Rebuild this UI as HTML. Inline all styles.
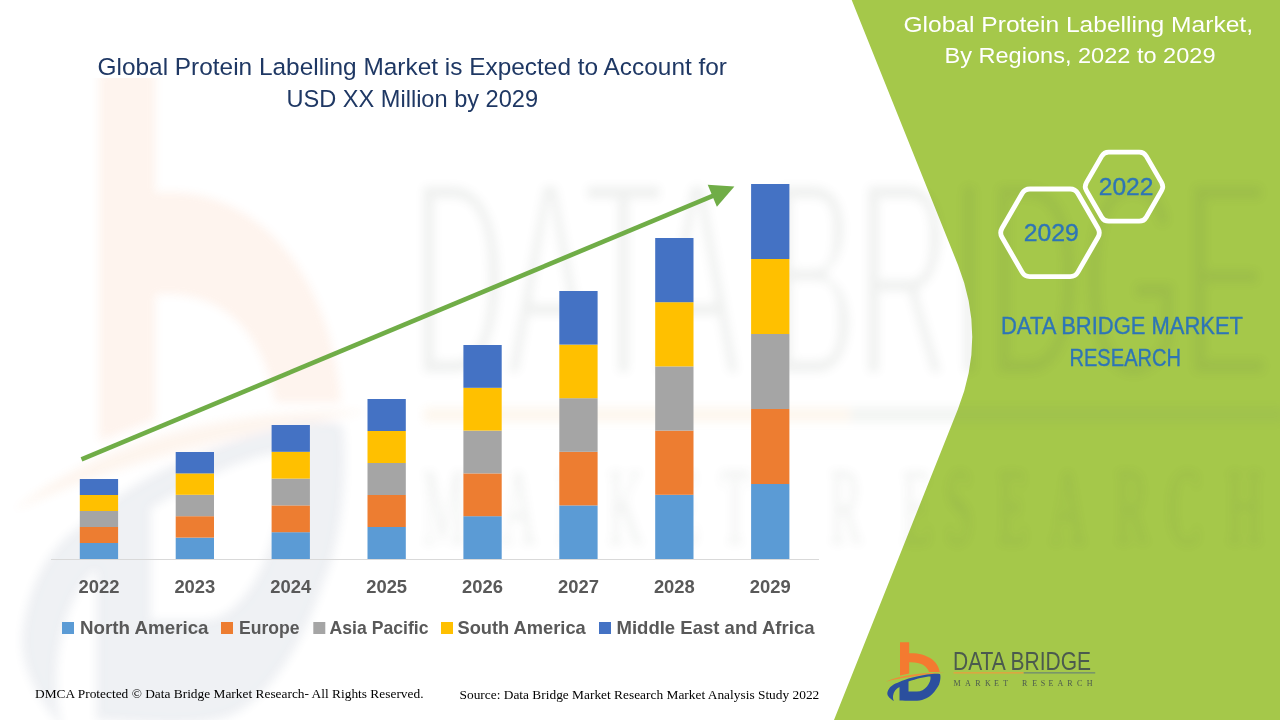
<!DOCTYPE html>
<html><head><meta charset="utf-8">
<style>
html,body{margin:0;padding:0;background:#fff;width:1280px;height:720px;overflow:hidden;}
svg{display:block;}
text{font-family:"Liberation Sans",sans-serif;}
.serif{font-family:"Liberation Serif",serif;}
</style></head>
<body>
<svg width="1280" height="720" viewBox="0 0 1280 720">
<defs>
  <filter id="blur6" x="-20%" y="-20%" width="140%" height="140%"><feGaussianBlur stdDeviation="5"/></filter>
  <clipPath id="wmclip"><rect x="0" y="78" width="1280" height="642"/></clipPath>
  <filter id="erodeY" x="-5%" y="-5%" width="110%" height="110%"><feMorphology operator="erode" radius="1 5"/></filter>
</defs>
<rect width="1280" height="720" fill="#fff"/>

<!-- watermark -->

<!-- green panel -->
<path d="M851.7,0 L958,265 Q986.5,337 958,409 L834,720 L1280,720 L1280,0 Z" fill="#A5C84A"/>

<g clip-path="url(#wmclip)"><g id="wm" opacity="0.085" filter="url(#blur6)"><g transform="translate(-5363.7,-7090.2) scale(6.07,11.15)">
<path d="M900,642.3 L909.2,642.3 L909.2,653.2 C925,652.4 938,659.8 939.8,672 L929,672 C927,665.5 920,661.8 909.2,662.3 L909.2,673.5 L900,675.5 Z" fill="#F47A30"/>
<path d="M885.8,681.7 C900,675.5 920,672.5 944.5,672.8 C920,675 900,678 885.8,681.7 Z" fill="#F08A3A"/>
<path fill-rule="evenodd" d="M894,701.25 C889,698 886.5,695 887.5,692 C889,687 893,684.5 897,683 C903,680 912,677 927,674.5 C933,673.5 938,673.5 940,674 C941,676 940.5,684 937,688 C934,693 929,698 922,700 C915,701.5 905,700.5 899.5,700.5 L899.5,687 C896,688.5 893.5,692 893,696 C892.8,698 893.3,700 894,701.25 Z M908.5,681.5 C916,679 925,676.5 930.5,676.5 C931,680 929.5,683 927,686.5 C924.5,689.5 921,691.5 917,691.5 L908.5,691.5 Z" fill="#3A5278"/>
</g>
<text filter="url(#erodeY)" x="412" y="377" font-size="284" fill="#4B5A4E" textLength="858" lengthAdjust="spacingAndGlyphs">DATA BRIDGE</text>
<rect x="424" y="407.5" width="426" height="14.5" fill="#E8A040"/>
<rect x="850" y="407.5" width="434" height="14.5" fill="#6F8A70"/>
<g transform="translate(-5363.7,-7090.2) scale(6.07,11.15)"><text class="serif" transform="translate(0,684.7) scale(1,1.24) translate(0,-684.7)" y="684.7" font-size="8" fill="#4B5A4E" x="953.2 966.2 975.3 983.8 994 1002.3 1020.3 1032.2 1039.4 1048 1056.7 1067.4 1076.1 1085.8">MARKETRESEARCH</text></g></g></g>
<!-- title -->
<text x="97.5" y="74.75" font-size="23.7" fill="#1F3864" textLength="629.5" lengthAdjust="spacingAndGlyphs">Global Protein Labelling Market is Expected to Account for</text>
<text x="286.5" y="106.9" font-size="23.7" fill="#1F3864" textLength="251.5" lengthAdjust="spacingAndGlyphs">USD XX Million by 2029</text>

<!-- bars -->
<g id="bars">
<rect x="79.80" y="543.00" width="38.3" height="16.00" fill="#5B9BD5"/>
<rect x="79.80" y="527.00" width="38.3" height="16.00" fill="#ED7D31"/>
<rect x="79.80" y="511.00" width="38.3" height="16.00" fill="#A5A5A5"/>
<rect x="79.80" y="495.00" width="38.3" height="16.00" fill="#FFC000"/>
<rect x="79.80" y="479.00" width="38.3" height="16.00" fill="#4472C4"/>
<rect x="175.70" y="537.60" width="38.3" height="21.40" fill="#5B9BD5"/>
<rect x="175.70" y="516.20" width="38.3" height="21.40" fill="#ED7D31"/>
<rect x="175.70" y="494.80" width="38.3" height="21.40" fill="#A5A5A5"/>
<rect x="175.70" y="473.40" width="38.3" height="21.40" fill="#FFC000"/>
<rect x="175.70" y="452.00" width="38.3" height="21.40" fill="#4472C4"/>
<rect x="271.60" y="532.20" width="38.3" height="26.80" fill="#5B9BD5"/>
<rect x="271.60" y="505.40" width="38.3" height="26.80" fill="#ED7D31"/>
<rect x="271.60" y="478.60" width="38.3" height="26.80" fill="#A5A5A5"/>
<rect x="271.60" y="451.80" width="38.3" height="26.80" fill="#FFC000"/>
<rect x="271.60" y="425.00" width="38.3" height="26.80" fill="#4472C4"/>
<rect x="367.50" y="527.00" width="38.3" height="32.00" fill="#5B9BD5"/>
<rect x="367.50" y="495.00" width="38.3" height="32.00" fill="#ED7D31"/>
<rect x="367.50" y="463.00" width="38.3" height="32.00" fill="#A5A5A5"/>
<rect x="367.50" y="431.00" width="38.3" height="32.00" fill="#FFC000"/>
<rect x="367.50" y="399.00" width="38.3" height="32.00" fill="#4472C4"/>
<rect x="463.40" y="516.20" width="38.3" height="42.80" fill="#5B9BD5"/>
<rect x="463.40" y="473.40" width="38.3" height="42.80" fill="#ED7D31"/>
<rect x="463.40" y="430.60" width="38.3" height="42.80" fill="#A5A5A5"/>
<rect x="463.40" y="387.80" width="38.3" height="42.80" fill="#FFC000"/>
<rect x="463.40" y="345.00" width="38.3" height="42.80" fill="#4472C4"/>
<rect x="559.30" y="505.40" width="38.3" height="53.60" fill="#5B9BD5"/>
<rect x="559.30" y="451.80" width="38.3" height="53.60" fill="#ED7D31"/>
<rect x="559.30" y="398.20" width="38.3" height="53.60" fill="#A5A5A5"/>
<rect x="559.30" y="344.60" width="38.3" height="53.60" fill="#FFC000"/>
<rect x="559.30" y="291.00" width="38.3" height="53.60" fill="#4472C4"/>
<rect x="655.20" y="494.80" width="38.3" height="64.20" fill="#5B9BD5"/>
<rect x="655.20" y="430.60" width="38.3" height="64.20" fill="#ED7D31"/>
<rect x="655.20" y="366.40" width="38.3" height="64.20" fill="#A5A5A5"/>
<rect x="655.20" y="302.20" width="38.3" height="64.20" fill="#FFC000"/>
<rect x="655.20" y="238.00" width="38.3" height="64.20" fill="#4472C4"/>
<rect x="751.10" y="484.00" width="38.3" height="75.00" fill="#5B9BD5"/>
<rect x="751.10" y="409.00" width="38.3" height="75.00" fill="#ED7D31"/>
<rect x="751.10" y="334.00" width="38.3" height="75.00" fill="#A5A5A5"/>
<rect x="751.10" y="259.00" width="38.3" height="75.00" fill="#FFC000"/>
<rect x="751.10" y="184.00" width="38.3" height="75.00" fill="#4472C4"/>
</g>

<!-- axis -->
<rect x="51" y="559" width="768" height="1" fill="#D9D9D9"/>

<!-- arrow -->
<line x1="81.5" y1="459.4" x2="714" y2="195.4" stroke="#70AD47" stroke-width="4.6"/>
<polygon points="734.4,186.4 707.7,184.7 716.9,206.7" fill="#70AD47"/>

<!-- x labels -->
<g font-size="18.4" font-weight="bold" fill="#595959" text-anchor="middle">
<text x="98.95" y="593">2022</text><text x="194.85" y="593">2023</text><text x="290.75" y="593">2024</text><text x="386.65" y="593">2025</text>
<text x="482.55" y="593">2026</text><text x="578.45" y="593">2027</text><text x="674.35" y="593">2028</text><text x="770.25" y="593">2029</text>
</g>

<!-- legend -->
<g font-size="17.8" font-weight="bold" fill="#595959">
<rect x="62" y="622" width="12" height="12" fill="#5B9BD5"/>
<text x="80" y="634" textLength="128.5" lengthAdjust="spacingAndGlyphs">North America</text>
<rect x="221" y="622" width="12" height="12" fill="#ED7D31"/>
<text x="239" y="634" textLength="60.5" lengthAdjust="spacingAndGlyphs">Europe</text>
<rect x="313.3" y="622" width="12" height="12" fill="#A5A5A5"/>
<text x="329.5" y="634" textLength="99" lengthAdjust="spacingAndGlyphs">Asia Pacific</text>
<rect x="441" y="622" width="12" height="12" fill="#FFC000"/>
<text x="457.5" y="634" textLength="128.2" lengthAdjust="spacingAndGlyphs">South America</text>
<rect x="599" y="622" width="12" height="12" fill="#4472C4"/>
<text x="616.5" y="634" textLength="198" lengthAdjust="spacingAndGlyphs">Middle East and Africa</text>
</g>

<!-- footer -->
<text class="serif" x="35" y="697.5" font-size="12.5" fill="#000" textLength="388.5" lengthAdjust="spacingAndGlyphs">DMCA Protected © Data Bridge Market Research- All Rights Reserved.</text>
<text class="serif" x="459.5" y="698.75" font-size="12.5" fill="#000" textLength="359.8" lengthAdjust="spacingAndGlyphs">Source: Data Bridge Market Research Market Analysis Study 2022</text>

<!-- panel title -->
<text x="903.5" y="31.7" font-size="21.5" fill="#fff" textLength="349.5" lengthAdjust="spacingAndGlyphs">Global Protein Labelling Market,</text>
<text x="944.5" y="63.4" font-size="21.5" fill="#fff" textLength="271" lengthAdjust="spacingAndGlyphs">By Regions, 2022 to 2029</text>

<!-- hexagons -->
<g id="hex">
<path d="M1098.00,228.30 Q1100.60,232.80 1098.00,237.30 L1077.90,272.12 Q1075.30,276.62 1070.10,276.62 L1029.90,276.62 Q1024.70,276.62 1022.10,272.12 L1002.00,237.30 Q999.40,232.80 1002.00,228.30 L1022.10,193.48 Q1024.70,188.98 1029.90,188.98 L1070.10,188.98 Q1075.30,188.98 1077.90,193.48 Z" fill="none" stroke="#fff" stroke-width="4.8"/>
<path d="M1161.59,182.65 Q1163.90,186.65 1161.59,190.65 L1146.26,217.20 Q1143.95,221.20 1139.33,221.20 L1108.67,221.20 Q1104.05,221.20 1101.74,217.20 L1086.41,190.65 Q1084.10,186.65 1086.41,182.65 L1101.74,156.10 Q1104.05,152.10 1108.67,152.10 L1139.33,152.10 Q1143.95,152.10 1146.26,156.10 Z" fill="none" stroke="#fff" stroke-width="4.8"/>
<text x="1051.2" y="240.7" font-size="23" fill="#2E75B6" stroke="#2E75B6" stroke-width="0.35" text-anchor="middle" textLength="55" lengthAdjust="spacingAndGlyphs">2029</text>
<text x="1126.1" y="194.8" font-size="23" fill="#2E75B6" stroke="#2E75B6" stroke-width="0.35" text-anchor="middle" textLength="54.6" lengthAdjust="spacingAndGlyphs">2022</text>
</g>

<text x="1001" y="333.6" font-size="23" fill="#2E75B6" stroke="#2E75B6" stroke-width="0.35" textLength="242" lengthAdjust="spacingAndGlyphs">DATA BRIDGE MARKET</text>
<text x="1069.5" y="366" font-size="23" fill="#2E75B6" stroke="#2E75B6" stroke-width="0.35" textLength="111.5" lengthAdjust="spacingAndGlyphs">RESEARCH</text>

<!-- logo -->
<g id="logoA"><g id="logoIcon">
<path d="M900,642.3 L909.2,642.3 L909.2,653.2 C925,652.4 938,659.8 939.8,672 L929,672 C927,665.5 920,661.8 909.2,662.3 L909.2,673.5 L900,675.5 Z" fill="#F47A30"/>
<path d="M885.8,681.7 C900,675.5 920,672.5 944.5,672.8 C920,675 900,678 885.8,681.7 Z" fill="#F08A3A"/>
<path fill-rule="evenodd" d="M894,701.25 C889,698 886.5,695 887.5,692 C889,687 893,684.5 897,683 C903,680 912,677 927,674.5 C933,673.5 938,673.5 940,674 C941,676 940.5,684 937,688 C934,693 929,698 922,700 C915,701.5 905,700.5 899.5,700.5 L899.5,687 C896,688.5 893.5,692 893,696 C892.8,698 893.3,700 894,701.25 Z M908.5,681.5 C916,679 925,676.5 930.5,676.5 C931,680 929.5,683 927,686.5 C924.5,689.5 921,691.5 917,691.5 L908.5,691.5 Z" fill="#2B4F9E"/>
</g>
<text x="953" y="669.7" font-size="25.6" fill="#4B5A4E" textLength="138" lengthAdjust="spacingAndGlyphs">DATA BRIDGE</text>
<rect x="953.5" y="672.2" width="70.2" height="1.3" fill="#E8A040"/>
<rect x="1023.7" y="672.2" width="71.5" height="1.3" fill="#6F8A70"/>
</g>
<text class="serif" y="685.6" font-size="8" fill="#4B5A4E" x="953.5 965 975.3 985 994 1003.3 1021.9 1032.2 1040.7 1048.5 1057.6 1067.3 1077 1086.7">MARKETRESEARCH</text>
</svg>
</body></html>
